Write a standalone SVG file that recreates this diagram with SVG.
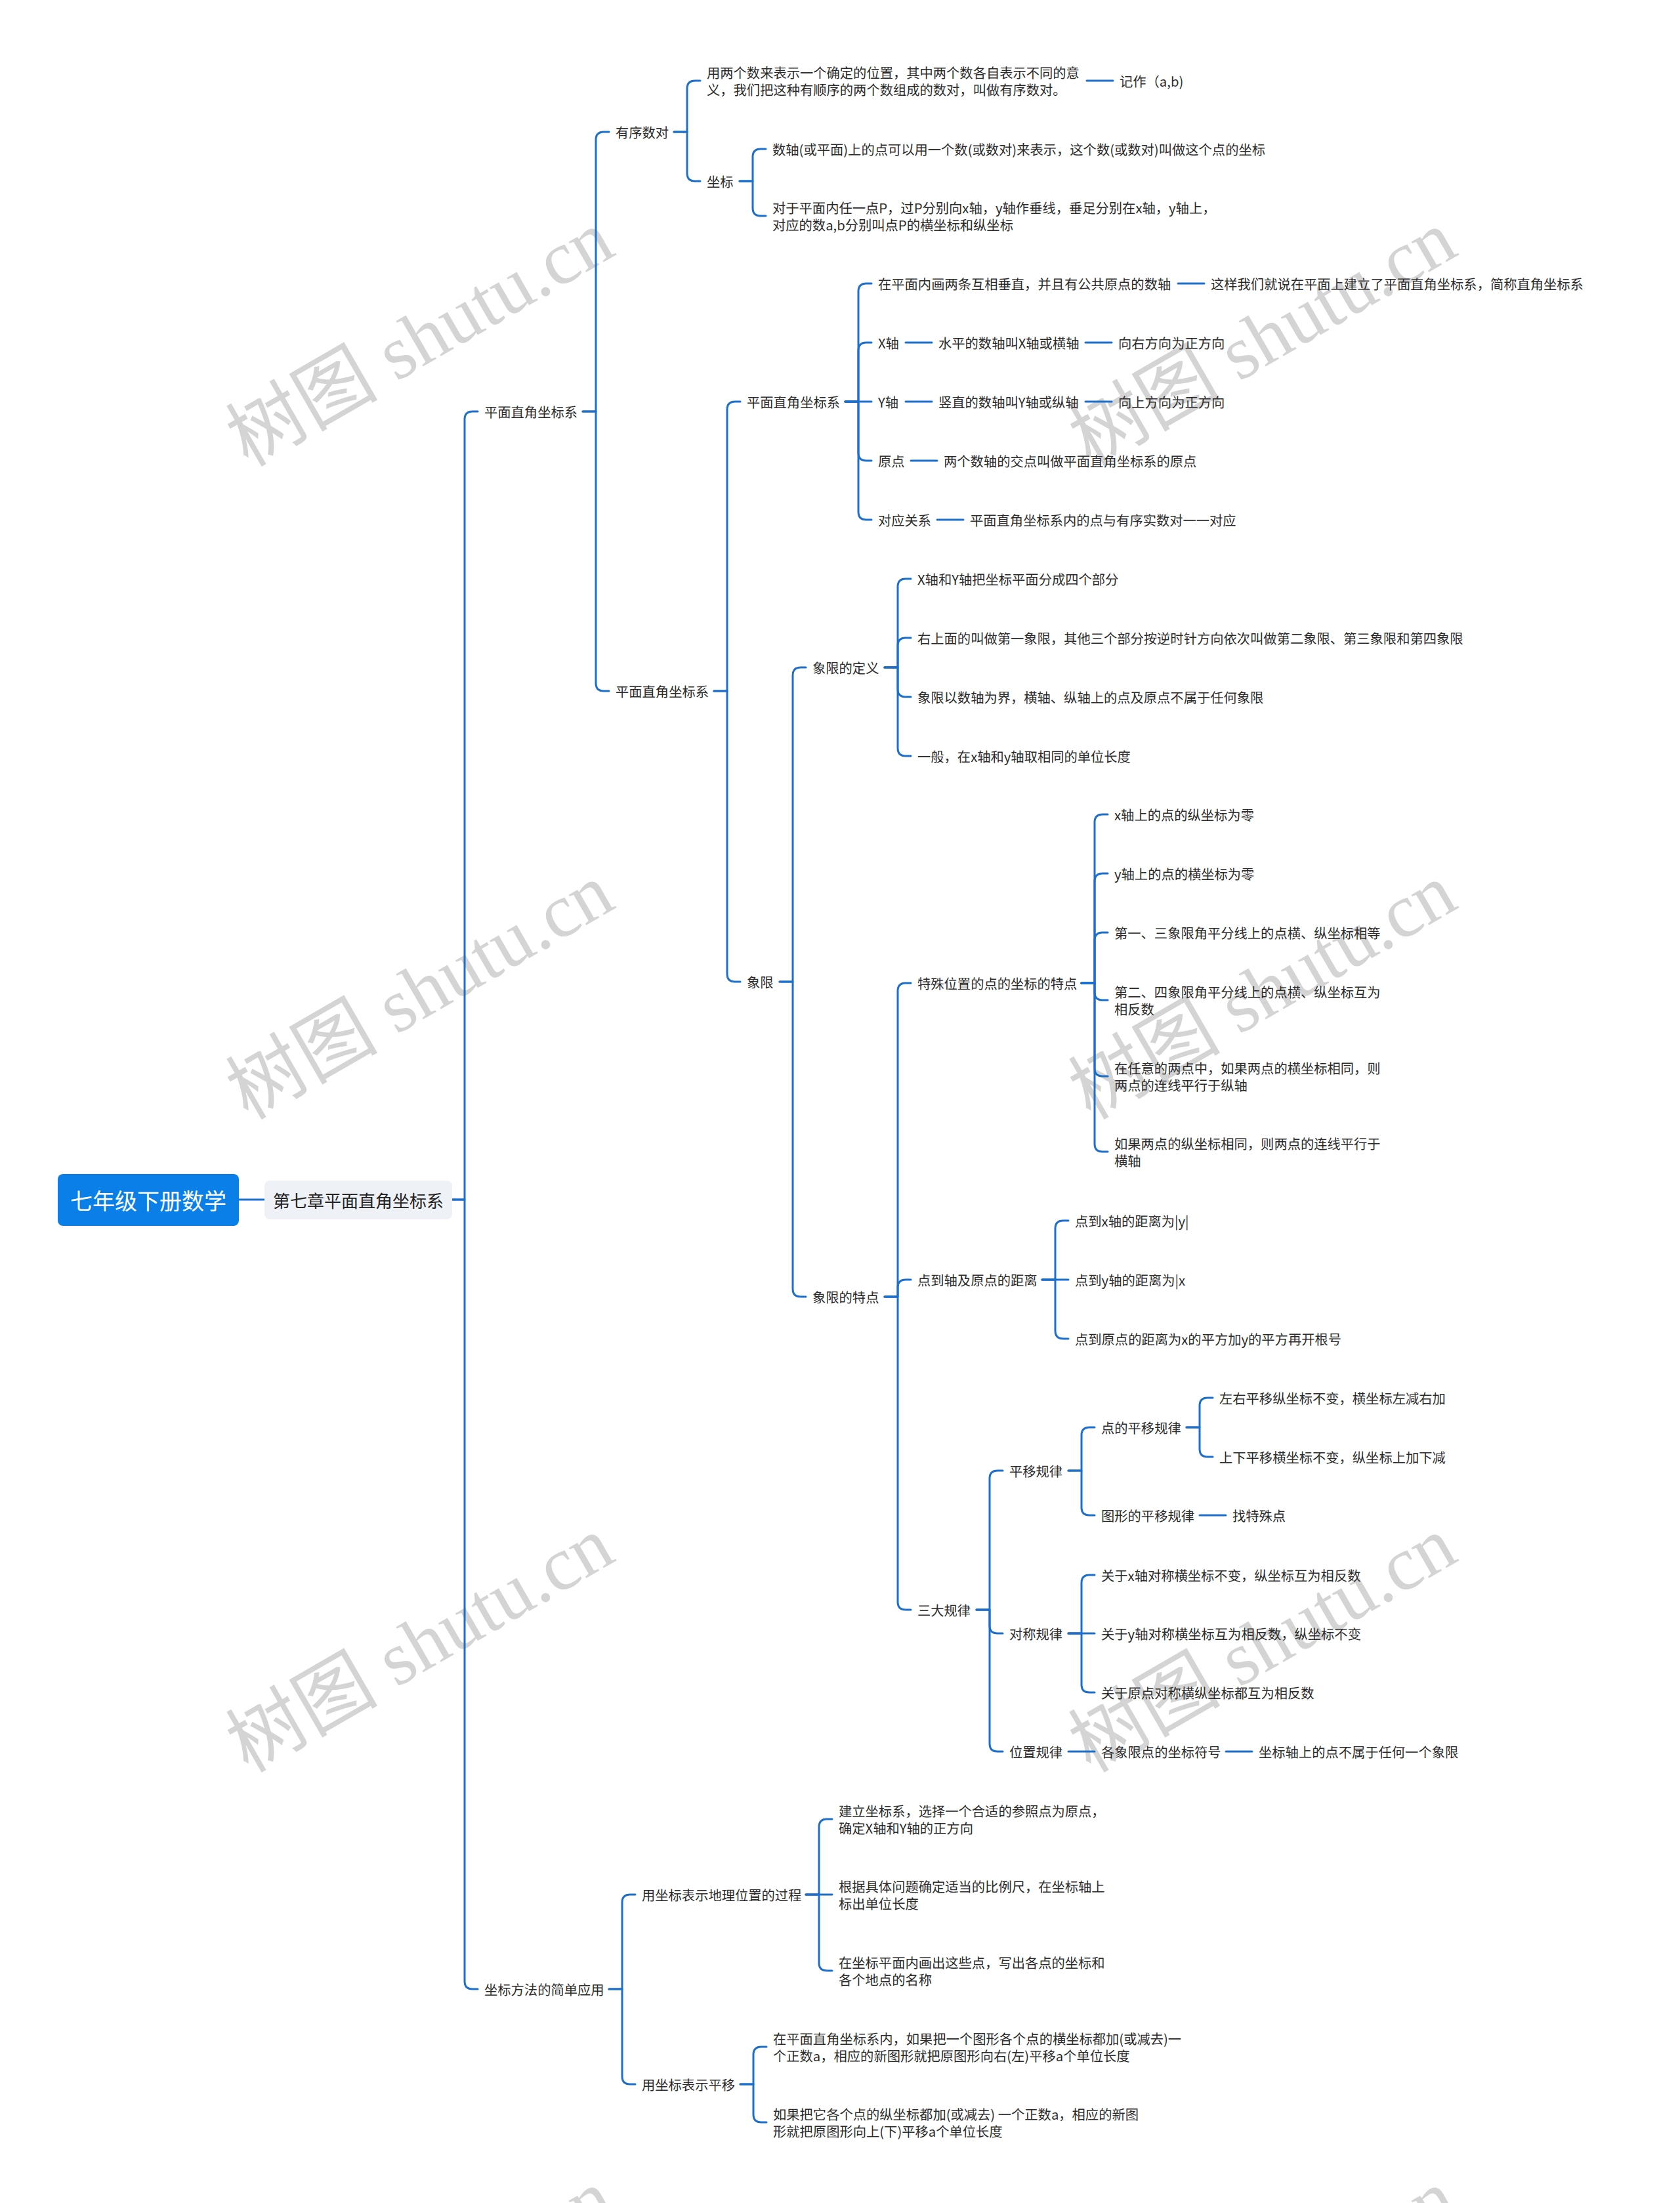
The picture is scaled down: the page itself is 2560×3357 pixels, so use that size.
<svg xmlns="http://www.w3.org/2000/svg" width="2560" height="3357" viewBox="0 0 2560 3357">
<style>
.t{font-family:"Noto Sans CJK SC","Liberation Sans",sans-serif;font-size:20.3px;fill:#2b2b2b;dominant-baseline:central}
.c{fill:none;stroke:#1c6fcb;stroke-width:3;stroke-linecap:round;stroke-linejoin:round}
.wm{font-family:"Liberation Serif","Noto Sans CJK SC",serif;font-size:116px;fill:#d4d4d4;text-anchor:middle;dominant-baseline:central}
</style>
<rect width="2560" height="3357" fill="#ffffff"/>
<g id="watermarks">
<text class="wm" transform="translate(640,516) rotate(-30)">树图 shutu.cn</text>
<text class="wm" transform="translate(1924,516) rotate(-30)">树图 shutu.cn</text>
<text class="wm" transform="translate(640,1511) rotate(-30)">树图 shutu.cn</text>
<text class="wm" transform="translate(1924,1511) rotate(-30)">树图 shutu.cn</text>
<text class="wm" transform="translate(640,2506) rotate(-30)">树图 shutu.cn</text>
<text class="wm" transform="translate(1924,2506) rotate(-30)">树图 shutu.cn</text>
<text class="wm" transform="translate(640,3501) rotate(-30)">树图 shutu.cn</text>
<text class="wm" transform="translate(1924,3501) rotate(-30)">树图 shutu.cn</text>
</g>
<g id="connectors">
<path class="c" d="M364,1828 H403"/>
<path class="c" d="M689,1828 H708 V639 Q708,627 720,627 H728"/>
<path class="c" d="M689,1828 H708 V3019 Q708,3031 720,3031 H728"/>
<path class="c" d="M888,627 H908 V213 Q908,201 920,201 H928"/>
<path class="c" d="M888,627 H908 V1041 Q908,1053 920,1053 H928"/>
<path class="c" d="M1027,201 H1047 V135 Q1047,123 1059,123 H1067"/>
<path class="c" d="M1027,201 H1047 V264 Q1047,276 1059,276 H1067"/>
<path class="c" d="M1656,123 H1696"/>
<path class="c" d="M1127,276 H1147 V239 Q1147,227 1159,227 H1167"/>
<path class="c" d="M1127,276 H1147 V317 Q1147,329 1159,329 H1167"/>
<path class="c" d="M1088,1053 H1108 V624 Q1108,612 1120,612 H1128"/>
<path class="c" d="M1088,1053 H1108 V1484 Q1108,1496 1120,1496 H1128"/>
<path class="c" d="M1288,612 H1308 V444 Q1308,432 1320,432 H1328"/>
<path class="c" d="M1288,612 H1308 V534 Q1308,522 1320,522 H1328"/>
<path class="c" d="M1288,612 H1328"/>
<path class="c" d="M1288,612 H1308 V690 Q1308,702 1320,702 H1328"/>
<path class="c" d="M1288,612 H1308 V780 Q1308,792 1320,792 H1328"/>
<path class="c" d="M1795,432 H1835"/>
<path class="c" d="M1380,522 H1420"/>
<path class="c" d="M1654,522 H1694"/>
<path class="c" d="M1380,612 H1420"/>
<path class="c" d="M1654,612 H1694"/>
<path class="c" d="M1388,702 H1428"/>
<path class="c" d="M1428,792 H1468"/>
<path class="c" d="M1188,1496 H1208 V1029 Q1208,1017 1220,1017 H1228"/>
<path class="c" d="M1188,1496 H1208 V1964 Q1208,1976 1220,1976 H1228"/>
<path class="c" d="M1348,1017 H1368 V894 Q1368,882 1380,882 H1388"/>
<path class="c" d="M1348,1017 H1368 V984 Q1368,972 1380,972 H1388"/>
<path class="c" d="M1348,1017 H1368 V1050 Q1368,1062 1380,1062 H1388"/>
<path class="c" d="M1348,1017 H1368 V1140 Q1368,1152 1380,1152 H1388"/>
<path class="c" d="M1348,1976 H1368 V1510 Q1368,1498 1380,1498 H1388"/>
<path class="c" d="M1348,1976 H1368 V1962 Q1368,1950 1380,1950 H1388"/>
<path class="c" d="M1348,1976 H1368 V2441 Q1368,2453 1380,2453 H1388"/>
<path class="c" d="M1648,1498 H1668 V1253 Q1668,1241 1680,1241 H1688"/>
<path class="c" d="M1648,1498 H1668 V1343 Q1668,1331 1680,1331 H1688"/>
<path class="c" d="M1648,1498 H1668 V1433 Q1668,1421 1680,1421 H1688"/>
<path class="c" d="M1648,1498 H1668 V1512 Q1668,1524 1680,1524 H1688"/>
<path class="c" d="M1648,1498 H1668 V1628 Q1668,1640 1680,1640 H1688"/>
<path class="c" d="M1648,1498 H1668 V1743 Q1668,1755 1680,1755 H1688"/>
<path class="c" d="M1588,1950 H1608 V1872 Q1608,1860 1620,1860 H1628"/>
<path class="c" d="M1588,1950 H1628"/>
<path class="c" d="M1588,1950 H1608 V2028 Q1608,2040 1620,2040 H1628"/>
<path class="c" d="M1488,2453 H1508 V2253 Q1508,2241 1520,2241 H1528"/>
<path class="c" d="M1488,2453 H1508 V2477 Q1508,2489 1520,2489 H1528"/>
<path class="c" d="M1488,2453 H1508 V2657 Q1508,2669 1520,2669 H1528"/>
<path class="c" d="M1628,2241 H1648 V2187 Q1648,2175 1660,2175 H1668"/>
<path class="c" d="M1628,2241 H1648 V2297 Q1648,2309 1660,2309 H1668"/>
<path class="c" d="M1808,2175 H1828 V2142 Q1828,2130 1840,2130 H1848"/>
<path class="c" d="M1808,2175 H1828 V2208 Q1828,2220 1840,2220 H1848"/>
<path class="c" d="M1828,2309 H1868"/>
<path class="c" d="M1628,2489 H1648 V2412 Q1648,2400 1660,2400 H1668"/>
<path class="c" d="M1628,2489 H1668"/>
<path class="c" d="M1628,2489 H1648 V2567 Q1648,2579 1660,2579 H1668"/>
<path class="c" d="M1628,2669 H1668"/>
<path class="c" d="M1868,2669 H1908"/>
<path class="c" d="M928,3031 H948 V2899 Q948,2887 960,2887 H968"/>
<path class="c" d="M928,3031 H948 V3164 Q948,3176 960,3176 H968"/>
<path class="c" d="M1228,2887 H1248 V2784 Q1248,2772 1260,2772 H1268"/>
<path class="c" d="M1228,2887 H1268"/>
<path class="c" d="M1228,2887 H1248 V2991 Q1248,3003 1260,3003 H1268"/>
<path class="c" d="M1128,3176 H1148 V3131 Q1148,3119 1160,3119 H1168"/>
<path class="c" d="M1128,3176 H1148 V3222 Q1148,3234 1160,3234 H1168"/>
</g>
<g id="root"><rect x="88" y="1789" width="276" height="79" rx="8" fill="#0a7fe8"/><text class="t" x="226" y="1828" style="font-size:34px;fill:#ffffff;text-anchor:middle">七年级下册数学</text></g>
<g id="chapter"><rect x="403" y="1799" width="286" height="59" rx="8" fill="#eef1f5"/><text class="t" x="546" y="1828" style="font-size:26px;fill:#222;text-anchor:middle">第七章平面直角坐标系</text></g>
<g id="n-pmzj"><text class="t" x="738" y="627">平面直角坐标系</text></g>
<g id="n-yxsd"><text class="t" x="938" y="201">有序数对</text></g>
<g id="n-yxsd-def"><text class="t" x="1077" y="110">用两个数来表示一个确定的位置，其中两个数各自表示不同的意</text><text class="t" x="1077" y="136">义，我们把这种有顺序的两个数组成的数对，叫做有序数对。</text></g>
<g id="n-jizuo"><text class="t" x="1706" y="123">记作（a,b)</text></g>
<g id="n-zb"><text class="t" x="1077" y="276">坐标</text></g>
<g id="n-zb1"><text class="t" x="1177" y="227">数轴(或平面)上的点可以用一个数(或数对)来表示，这个数(或数对)叫做这个点的坐标</text></g>
<g id="n-zb2"><text class="t" x="1177" y="316">对于平面内任一点P，过P分别向x轴，y轴作垂线，垂足分别在x轴，y轴上，</text><text class="t" x="1177" y="342">对应的数a,b分别叫点P的横坐标和纵坐标</text></g>
<g id="n-pmzj2"><text class="t" x="938" y="1053">平面直角坐标系</text></g>
<g id="n-pmzj3"><text class="t" x="1138" y="612">平面直角坐标系</text></g>
<g id="n-def1"><text class="t" x="1338" y="432">在平面内画两条互相垂直，并且有公共原点的数轴</text></g>
<g id="n-def1a"><text class="t" x="1845" y="432">这样我们就说在平面上建立了平面直角坐标系，简称直角坐标系</text></g>
<g id="n-xaxis"><text class="t" x="1338" y="522">X轴</text></g>
<g id="n-xaxis1"><text class="t" x="1430" y="522">水平的数轴叫X轴或横轴</text></g>
<g id="n-xaxis2"><text class="t" x="1704" y="522">向右方向为正方向</text></g>
<g id="n-yaxis"><text class="t" x="1338" y="612">Y轴</text></g>
<g id="n-yaxis1"><text class="t" x="1430" y="612">竖直的数轴叫Y轴或纵轴</text></g>
<g id="n-yaxis2"><text class="t" x="1704" y="612">向上方向为正方向</text></g>
<g id="n-origin"><text class="t" x="1338" y="702">原点</text></g>
<g id="n-origin1"><text class="t" x="1438" y="702">两个数轴的交点叫做平面直角坐标系的原点</text></g>
<g id="n-corr"><text class="t" x="1338" y="792">对应关系</text></g>
<g id="n-corr1"><text class="t" x="1478" y="792">平面直角坐标系内的点与有序实数对一一对应</text></g>
<g id="n-xx"><text class="t" x="1138" y="1496">象限</text></g>
<g id="n-xxdy"><text class="t" x="1238" y="1017">象限的定义</text></g>
<g id="n-xxdy1"><text class="t" x="1398" y="882">X轴和Y轴把坐标平面分成四个部分</text></g>
<g id="n-xxdy2"><text class="t" x="1398" y="972">右上面的叫做第一象限，其他三个部分按逆时针方向依次叫做第二象限、第三象限和第四象限</text></g>
<g id="n-xxdy3"><text class="t" x="1398" y="1062">象限以数轴为界，横轴、纵轴上的点及原点不属于任何象限</text></g>
<g id="n-xxdy4"><text class="t" x="1398" y="1152">一般，在x轴和y轴取相同的单位长度</text></g>
<g id="n-xxtd"><text class="t" x="1238" y="1976">象限的特点</text></g>
<g id="n-tswz"><text class="t" x="1398" y="1498">特殊位置的点的坐标的特点</text></g>
<g id="n-tswz1"><text class="t" x="1698" y="1241">x轴上的点的纵坐标为零</text></g>
<g id="n-tswz2"><text class="t" x="1698" y="1331">y轴上的点的横坐标为零</text></g>
<g id="n-tswz3"><text class="t" x="1698" y="1421">第一、三象限角平分线上的点横、纵坐标相等</text></g>
<g id="n-tswz4"><text class="t" x="1698" y="1511">第二、四象限角平分线上的点横、纵坐标互为</text><text class="t" x="1698" y="1537">相反数</text></g>
<g id="n-tswz5"><text class="t" x="1698" y="1627">在任意的两点中，如果两点的横坐标相同，则</text><text class="t" x="1698" y="1653">两点的连线平行于纵轴</text></g>
<g id="n-tswz6"><text class="t" x="1698" y="1742">如果两点的纵坐标相同，则两点的连线平行于</text><text class="t" x="1698" y="1768">横轴</text></g>
<g id="n-jl"><text class="t" x="1398" y="1950">点到轴及原点的距离</text></g>
<g id="n-jl1"><text class="t" x="1638" y="1860">点到x轴的距离为|y|</text></g>
<g id="n-jl2"><text class="t" x="1638" y="1950">点到y轴的距离为|x</text></g>
<g id="n-jl3"><text class="t" x="1638" y="2040">点到原点的距离为x的平方加y的平方再开根号</text></g>
<g id="n-sdgl"><text class="t" x="1398" y="2453">三大规律</text></g>
<g id="n-pygl"><text class="t" x="1538" y="2241">平移规律</text></g>
<g id="n-dpy"><text class="t" x="1678" y="2175">点的平移规律</text></g>
<g id="n-dpy1"><text class="t" x="1858" y="2130">左右平移纵坐标不变，横坐标左减右加</text></g>
<g id="n-dpy2"><text class="t" x="1858" y="2220">上下平移横坐标不变，纵坐标上加下减</text></g>
<g id="n-txpy"><text class="t" x="1678" y="2309">图形的平移规律</text></g>
<g id="n-txpy1"><text class="t" x="1878" y="2309">找特殊点</text></g>
<g id="n-dcgl"><text class="t" x="1538" y="2489">对称规律</text></g>
<g id="n-dc1"><text class="t" x="1678" y="2400">关于x轴对称横坐标不变，纵坐标互为相反数</text></g>
<g id="n-dc2"><text class="t" x="1678" y="2489">关于y轴对称横坐标互为相反数，纵坐标不变</text></g>
<g id="n-dc3"><text class="t" x="1678" y="2579">关于原点对称横纵坐标都互为相反数</text></g>
<g id="n-wzgl"><text class="t" x="1538" y="2669">位置规律</text></g>
<g id="n-wz1"><text class="t" x="1678" y="2669">各象限点的坐标符号</text></g>
<g id="n-wz2"><text class="t" x="1918" y="2669">坐标轴上的点不属于任何一个象限</text></g>
<g id="n-zbff"><text class="t" x="738" y="3031">坐标方法的简单应用</text></g>
<g id="n-dlwz"><text class="t" x="978" y="2887">用坐标表示地理位置的过程</text></g>
<g id="n-dlwz1"><text class="t" x="1278" y="2759">建立坐标系，选择一个合适的参照点为原点，</text><text class="t" x="1278" y="2785">确定X轴和Y轴的正方向</text></g>
<g id="n-dlwz2"><text class="t" x="1278" y="2874">根据具体问题确定适当的比例尺，在坐标轴上</text><text class="t" x="1278" y="2900">标出单位长度</text></g>
<g id="n-dlwz3"><text class="t" x="1278" y="2990">在坐标平面内画出这些点，写出各点的坐标和</text><text class="t" x="1278" y="3016">各个地点的名称</text></g>
<g id="n-bspy"><text class="t" x="978" y="3176">用坐标表示平移</text></g>
<g id="n-bspy1"><text class="t" x="1178" y="3106">在平面直角坐标系内，如果把一个图形各个点的横坐标都加(或减去)一</text><text class="t" x="1178" y="3132">个正数a，相应的新图形就把原图形向右(左)平移a个单位长度</text></g>
<g id="n-bspy2"><text class="t" x="1178" y="3221">如果把它各个点的纵坐标都加(或减去) 一个正数a，相应的新图</text><text class="t" x="1178" y="3247">形就把原图形向上(下)平移a个单位长度</text></g>
</svg>
